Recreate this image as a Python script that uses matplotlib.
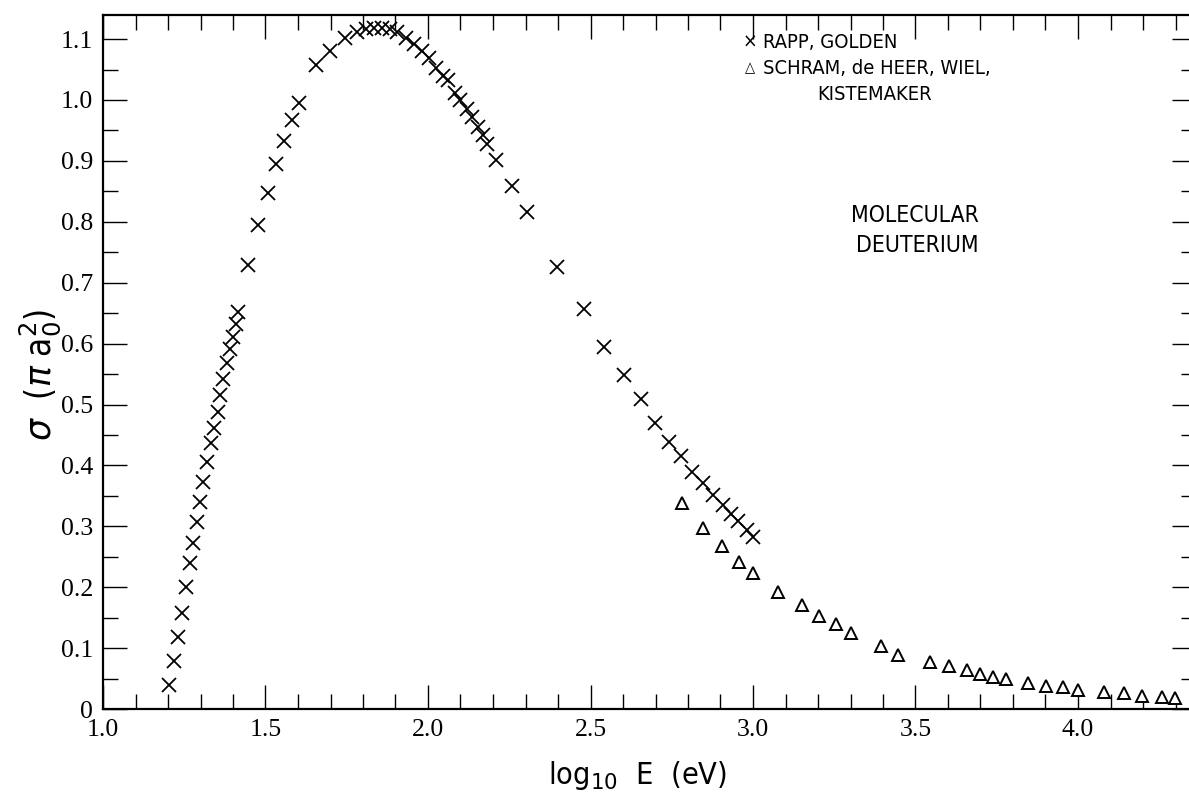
import matplotlib
matplotlib.use("Agg")
import matplotlib.pyplot as plt
from matplotlib.ticker import MultipleLocator, FixedLocator

# ---- data ----
rapp_x = [1.203, 1.218, 1.231, 1.243, 1.255, 1.268, 1.277, 1.289, 1.298, 1.308,
          1.320, 1.332, 1.342, 1.354, 1.360, 1.369, 1.382, 1.391, 1.400, 1.409,
          1.415, 1.446, 1.477, 1.508, 1.532, 1.557, 1.582, 1.603, 1.655, 1.698,
          1.745, 1.782, 1.809, 1.834, 1.858, 1.883, 1.905, 1.932, 1.957, 1.982,
          2.003, 2.025, 2.046, 2.062, 2.083, 2.098, 2.120, 2.135, 2.154, 2.169,
          2.182, 2.209, 2.258, 2.305, 2.397, 2.480, 2.542, 2.603, 2.655, 2.698,
          2.742, 2.778, 2.812, 2.846, 2.877, 2.908, 2.932, 2.954, 2.982, 3.000]
rapp_y = [0.039, 0.079, 0.118, 0.158, 0.200, 0.240, 0.273, 0.307, 0.340, 0.373,
          0.406, 0.437, 0.461, 0.488, 0.516, 0.542, 0.568, 0.591, 0.611, 0.632,
          0.652, 0.729, 0.795, 0.847, 0.895, 0.933, 0.967, 0.995, 1.058, 1.081,
          1.102, 1.112, 1.117, 1.118, 1.118, 1.117, 1.112, 1.102, 1.092, 1.081,
          1.069, 1.053, 1.039, 1.033, 1.012, 1.000, 0.985, 0.972, 0.956, 0.943,
          0.928, 0.902, 0.859, 0.816, 0.726, 0.657, 0.594, 0.548, 0.509, 0.470,
          0.438, 0.415, 0.389, 0.371, 0.351, 0.335, 0.320, 0.309, 0.294, 0.282]

schram_x = [2.782, 2.846, 2.905, 2.957, 3.000, 3.077, 3.151, 3.203, 3.255, 3.302,
            3.394, 3.446, 3.545, 3.603, 3.658, 3.698, 3.738, 3.778, 3.846, 3.902,
            3.954, 4.000, 4.080, 4.142, 4.197, 4.258, 4.298]
schram_y = [0.338, 0.297, 0.268, 0.241, 0.223, 0.192, 0.171, 0.153, 0.140, 0.125,
            0.103, 0.089, 0.077, 0.071, 0.064, 0.057, 0.053, 0.049, 0.043, 0.038,
            0.036, 0.031, 0.028, 0.026, 0.021, 0.020, 0.018]

x_major = [1.0, 1.5, 2.0, 2.5, 3.0, 3.5, 4.0]
x_labels = ["1.0", "1.5", "2.0", "2.5", "3.0", "3.5", "4.0"]
y_major = [0.0, 0.1, 0.2, 0.3, 0.4, 0.5, 0.6, 0.7, 0.8, 0.9, 1.0, 1.1]
y_labels = ["0", "0.1", "0.2", "0.3", "0.4", "0.5", "0.6", "0.7", "0.8", "0.9", "1.0", "1.1"]

W, H = 1189, 797
fig = plt.figure(figsize=(W / 100, H / 100), dpi=100)
fig.patch.set_facecolor("white")

left, right, top, bottom = 103, 1196, 15, 709
ax = fig.add_axes([left / W, (H - bottom) / H, (right - left) / W, (bottom - top) / H])

ax.plot(rapp_x, rapp_y, linestyle="none", marker="x", markersize=10.5,
        markeredgewidth=1.3, color="black")
ax.plot(schram_x, schram_y, linestyle="none", marker="^", markersize=8.5,
        markeredgewidth=1.4, markerfacecolor="white", markeredgecolor="black")

ax.set_xlim(1.0, 1 + (right - left) / 325)
ax.set_ylim(0, (bottom - top) / 609)

ax.xaxis.set_major_locator(FixedLocator(x_major))
ax.set_xticklabels(x_labels)
ax.xaxis.set_minor_locator(MultipleLocator(0.1))
ax.yaxis.set_major_locator(FixedLocator(y_major))
ax.set_yticklabels(y_labels)
ax.yaxis.set_minor_locator(MultipleLocator(0.05))

ax.tick_params(which="both", direction="in", top=True, right=True, color="black")
ax.tick_params(which="major", length=17, width=1.0, pad=7)
ax.tick_params(which="minor", length=11, width=1.0)
for lab in ax.get_xticklabels() + ax.get_yticklabels():
    lab.set_fontfamily("Liberation Serif")
    lab.set_fontsize(18.5)
for s in ax.spines.values():
    s.set_linewidth(1.6)

txt = dict(family="DejaVu Sans", fontstretch="condensed", color="black")
plt.rcParams["mathtext.fontset"] = "dejavusans"

fig.text(40 / W, 1 - 375 / H, r"$\sigma$  ($\pi$ a$_0^2$)", rotation=90,
         ha="center", va="center", fontsize=25, **txt)
fig.text(638 / W, 1 - 775 / H, r"log$_{10}$  E  (eV)", ha="center", va="center",
         fontsize=22, **txt)

fig.text(750 / W, 1 - 42 / H, "×", ha="center", va="center", fontsize=14, **txt)
fig.text(763 / W, 1 - 42 / H, "RAPP, GOLDEN", ha="left", va="center", fontsize=14.5, **txt)
fig.text(750 / W, 1 - 68 / H, "△", ha="center", va="center", fontsize=10.5, **txt)
fig.text(763 / W, 1 - 68 / H, "SCHRAM, de HEER, WIEL,", ha="left", va="center",
         fontsize=14.5, **txt)
fig.text(875 / W, 1 - 95 / H, "KISTEMAKER", ha="center", va="center", fontsize=14.5, **txt)
fig.text(915 / W, 1 - 216 / H, "MOLECULAR", ha="center", va="center", fontsize=16.5, **txt)
fig.text(917 / W, 1 - 245 / H, "DEUTERIUM", ha="center", va="center", fontsize=16.5, **txt)

fig.savefig("out.png", dpi=100, facecolor="white")
